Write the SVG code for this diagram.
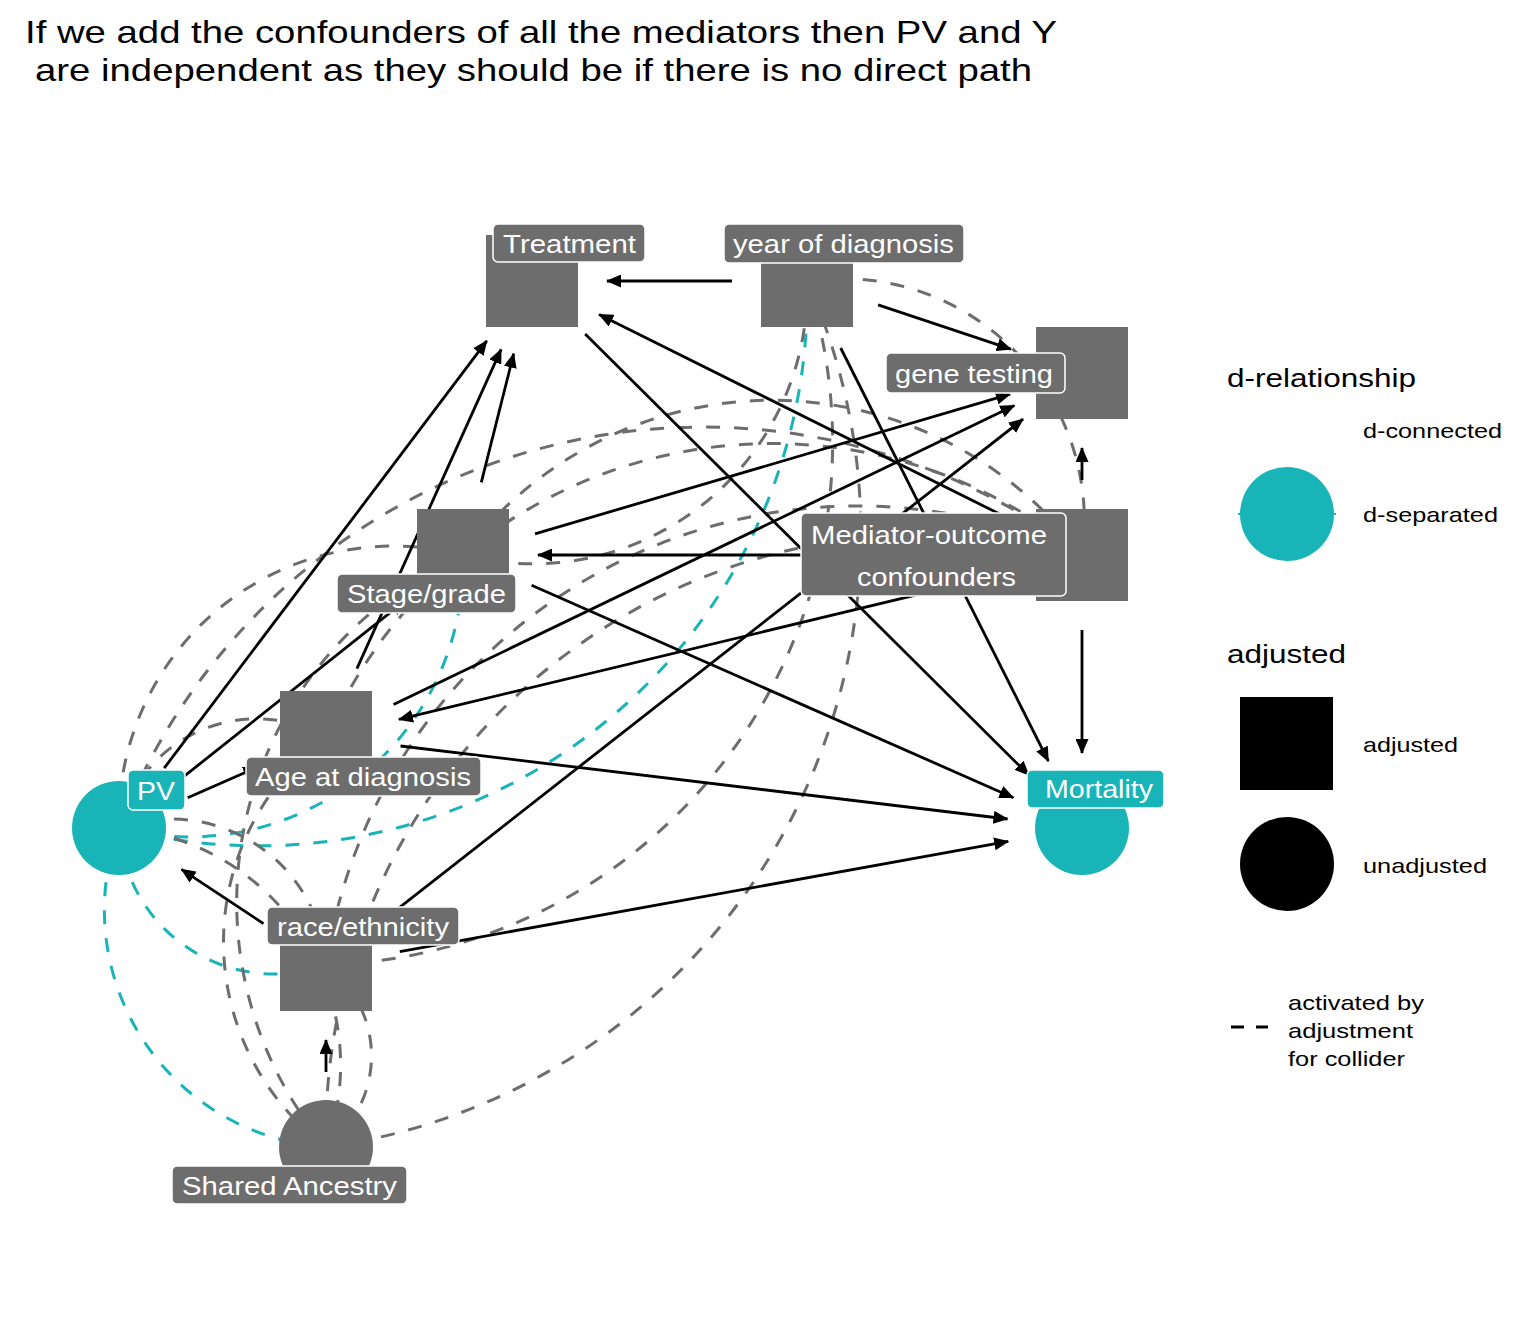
<svg xmlns="http://www.w3.org/2000/svg" width="1536" height="1344" viewBox="0 0 1536 1344">
<defs>
<marker id="ah" viewBox="0 0 15 13" refX="14" refY="6.5" markerWidth="15" markerHeight="13" markerUnits="userSpaceOnUse" orient="auto">
<path d="M0,0 L15,6.5 L0,13 z" fill="#000"/>
</marker>
<style>
.e{stroke:#000;stroke-width:2.8;fill:none;marker-end:url(#ah)}
.cg{stroke:#6d6d6d;stroke-width:3;fill:none;stroke-dasharray:14 14}
.ct{stroke:#19b4b8;stroke-width:3;fill:none;stroke-dasharray:14 14}
.n{fill:#6d6d6d}
.nt{fill:#19b4b8}
.lb{fill:#6d6d6d;stroke:#fff;stroke-width:1.5}
.lt{fill:#19b4b8;stroke:#fff;stroke-width:1.5}
.tx{font-family:"Liberation Sans",Arial,Helvetica,sans-serif;font-size:25px;fill:#fff}
.tt{font-family:"Liberation Sans",Arial,Helvetica,sans-serif;font-size:32px;fill:#000}
.lg{font-family:"Liberation Sans",Arial,Helvetica,sans-serif;font-size:26px;fill:#000}
.ll{font-family:"Liberation Sans",Arial,Helvetica,sans-serif;font-size:21px;fill:#000}
</style>
</defs>
<rect width="1536" height="1344" fill="#fff"/>
<g id="title">
<text class="tt" x="25" y="43" textLength="1032" lengthAdjust="spacingAndGlyphs">If we add the confounders of all the mediators then PV and Y</text>
<text class="tt" x="35" y="81" textLength="997" lengthAdjust="spacingAndGlyphs">are independent as they should be if there is no direct path</text>
</g>
<g id="connectors">
<g id="collider-lines">
<path class="ct" d="M119,828 A237.5,237.5 0 0 0 326,1147"/>
<path class="ct" d="M119,828 A155.2,155.2 0 0 0 326,965"/>
<path class="ct" d="M119,828 A274.5,274.5 0 0 0 463,555"/>
<path class="ct" d="M119,828 A549.4,549.4 0 0 0 807,281"/>
<path class="cg" d="M119,828 A237.5,237.5 0 0 1 326,1147"/>
<path class="cg" d="M119,828 A155.2,155.2 0 0 1 326,965"/>
<path class="cg" d="M119,828 A141.3,141.3 0 0 1 326,737"/>
<path class="cg" d="M119,828 A274.5,274.5 0 0 1 463,555"/>
<path class="cg" d="M119,828 A625.6,625.6 0 0 1 1082,555"/>
<path class="cg" d="M463,555 A386.9,386.9 0 0 1 1082,555"/>
<path class="cg" d="M326,737 A486,486 0 0 1 1082,555"/>
<path class="cg" d="M807,281 A242.6,242.6 0 0 1 1082,555"/>
<path class="cg" d="M463,555 A274.9,274.9 0 0 0 807,281"/>
<path class="cg" d="M326,965 A522.6,522.6 0 0 0 807,281"/>
<path class="cg" d="M326,1147 A619.1,619.1 0 0 0 807,281"/>
<path class="cg" d="M326,965 A537.5,537.5 0 0 1 1082,555"/>
<path class="cg" d="M326,1147 A600.1,600.1 0 0 1 1082,555"/>
<path class="cg" d="M326,737 A256.25,256.25 0 0 0 326,1147"/>
<path class="cg" d="M463,555 A379.75,379.75 0 0 0 326,1147"/>
<path class="cg" d="M326,965 A113.75,113.75 0 0 1 326,1147"/>
</g>
<g id="edges">
<line class="e" x1="164.2" y1="768.1" x2="486.8" y2="340.9"/>
<line class="e" x1="177.7" y1="781.4" x2="404.3" y2="601.4"/>
<line class="e" x1="187.7" y1="797.8" x2="257.3" y2="767.2"/>
<line class="e" x1="263.5" y1="923.6" x2="181.5" y2="869.4"/>
<line class="e" x1="385" y1="918.8" x2="1023" y2="419.2"/>
<line class="e" x1="399.8" y1="951.6" x2="1008.2" y2="841.4"/>
<line class="e" x1="326" y1="1072" x2="326" y2="1040"/>
<line class="e" x1="356.9" y1="668.7" x2="501.1" y2="349.3"/>
<line class="e" x1="393.6" y1="704.5" x2="1014.4" y2="405.5"/>
<line class="e" x1="400.5" y1="746" x2="1007.5" y2="819"/>
<line class="e" x1="481.3" y1="482.3" x2="513.7" y2="353.7"/>
<line class="e" x1="535" y1="533.8" x2="1010" y2="394.2"/>
<line class="e" x1="531.6" y1="585.3" x2="1013.4" y2="797.7"/>
<line class="e" x1="1014.9" y1="521.6" x2="599.1" y2="314.4"/>
<line class="e" x1="1007" y1="555" x2="538" y2="555"/>
<line class="e" x1="1009.1" y1="572.6" x2="398.9" y2="719.4"/>
<line class="e" x1="1082" y1="480" x2="1082" y2="448"/>
<line class="e" x1="1082" y1="630" x2="1082" y2="753"/>
<line class="e" x1="732" y1="281" x2="607" y2="281"/>
<line class="e" x1="878.1" y1="304.8" x2="1010.9" y2="349.2"/>
<line class="e" x1="840.7" y1="348" x2="1048.3" y2="761"/>
<line class="e" x1="585.2" y1="333.9" x2="1028.8" y2="775.1"/>
</g>
</g>
<g id="node-treatment"><rect class="n" x="486" y="235" width="92" height="92"/><rect class="lb" x="493" y="224" width="152" height="38" rx="5"/><text class="tx" x="503" y="253" textLength="133" lengthAdjust="spacingAndGlyphs">Treatment</text></g>
<g id="node-year"><rect class="n" x="761" y="235" width="92" height="92"/><rect class="lb" x="724" y="224" width="240" height="39" rx="5"/><text class="tx" x="733" y="253" textLength="221" lengthAdjust="spacingAndGlyphs">year of diagnosis</text></g>
<g id="node-gene"><rect class="n" x="1036" y="327" width="92" height="92"/><rect class="lb" x="886" y="353" width="179" height="40" rx="5"/><text class="tx" x="895" y="383" textLength="158" lengthAdjust="spacingAndGlyphs">gene testing</text></g>
<g id="node-moc"><rect class="n" x="1036" y="509" width="92" height="92"/><rect class="lb" x="801" y="513" width="265" height="83" rx="5"/><text class="tx" x="811" y="544" textLength="236" lengthAdjust="spacingAndGlyphs">Mediator-outcome</text><text class="tx" x="857" y="586" textLength="159" lengthAdjust="spacingAndGlyphs">confounders</text></g>
<g id="node-stage"><rect class="n" x="417" y="509" width="92" height="92"/><rect class="lb" x="337" y="574" width="179" height="39" rx="5"/><text class="tx" x="347" y="603" textLength="159" lengthAdjust="spacingAndGlyphs">Stage/grade</text></g>
<g id="node-age"><rect class="n" x="280" y="691" width="92" height="92"/><rect class="lb" x="246" y="757" width="235" height="39" rx="5"/><text class="tx" x="255" y="786" textLength="216" lengthAdjust="spacingAndGlyphs">Age at diagnosis</text></g>
<g id="node-pv"><circle class="nt" cx="119" cy="828" r="47"/><rect class="lt" x="128" y="770" width="57" height="40" rx="5"/><text class="tx" x="137" y="800" textLength="38" lengthAdjust="spacingAndGlyphs">PV</text></g>
<g id="node-race"><rect class="n" x="280" y="919" width="92" height="92"/><rect class="lb" x="267" y="907" width="192" height="38" rx="5"/><text class="tx" x="277" y="936" textLength="172" lengthAdjust="spacingAndGlyphs">race/ethnicity</text></g>
<g id="node-sa"><circle class="n" cx="326" cy="1147" r="47"/><rect class="lb" x="172" y="1166" width="235" height="38" rx="5"/><text class="tx" x="182" y="1195" textLength="215" lengthAdjust="spacingAndGlyphs">Shared Ancestry</text></g>
<g id="node-mortality"><circle class="nt" cx="1082" cy="828" r="47"/><rect class="lt" x="1027" y="770" width="137" height="38" rx="5"/><text class="tx" x="1045" y="798" textLength="108" lengthAdjust="spacingAndGlyphs">Mortality</text></g>
<g id="legend">
<text class="lg" x="1227" y="387" textLength="189" lengthAdjust="spacingAndGlyphs">d-relationship</text>
<text class="ll" x="1363" y="438" textLength="139" lengthAdjust="spacingAndGlyphs">d-connected</text>
<line x1="1238" y1="514" x2="1336" y2="514" stroke="#19b4b8" stroke-width="2"/>
<circle cx="1287" cy="514" r="47" fill="#19b4b8"/>
<text class="ll" x="1363" y="522" textLength="135" lengthAdjust="spacingAndGlyphs">d-separated</text>
<text class="lg" x="1227" y="663" textLength="119" lengthAdjust="spacingAndGlyphs">adjusted</text>
<rect x="1240" y="697" width="93" height="93" fill="#000"/>
<text class="ll" x="1363" y="752" textLength="95" lengthAdjust="spacingAndGlyphs">adjusted</text>
<circle cx="1287" cy="864" r="47" fill="#000"/>
<text class="ll" x="1363" y="873" textLength="124" lengthAdjust="spacingAndGlyphs">unadjusted</text>
<line x1="1231" y1="1027" x2="1268" y2="1027" stroke="#000" stroke-width="3" stroke-dasharray="13 12"/>
<text class="ll" x="1288" y="1010" textLength="136" lengthAdjust="spacingAndGlyphs">activated by</text>
<text class="ll" x="1288" y="1038" textLength="125" lengthAdjust="spacingAndGlyphs">adjustment</text>
<text class="ll" x="1288" y="1066" textLength="117" lengthAdjust="spacingAndGlyphs">for collider</text>
</g>
</svg>
